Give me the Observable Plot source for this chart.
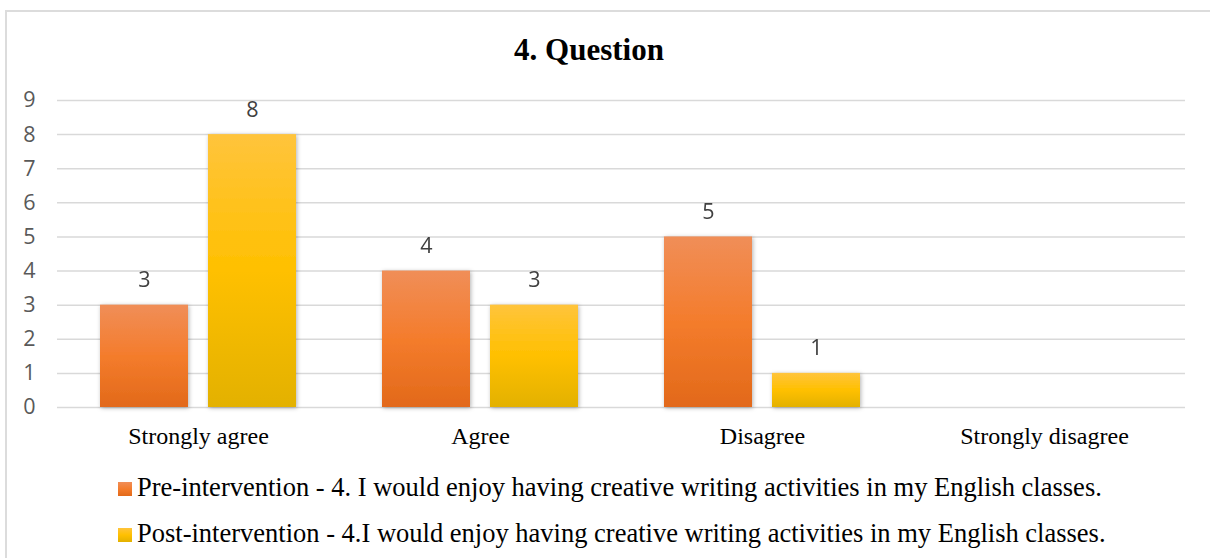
<!DOCTYPE html>
<html>
<head>
<meta charset="utf-8">
<script src="https://cdn.jsdelivr.net/npm/d3@7"></script>
<script src="https://cdn.jsdelivr.net/npm/@observablehq/plot@0.6"></script>
<style>
  html, body { margin: 0; padding: 0; background: #fff; }
  #frame {
    position: relative; width: 1210px; height: 558px; overflow: hidden; background: #fff;
  }
  #border {
    position: absolute; left: 5px; top: 10px; width: 1300px; height: 700px;
    border-top: 2px solid #dcdcdc; border-left: 2px solid #dcdcdc; box-sizing: border-box;
  }
  #title {
    position: absolute; left: 0; top: 34px; width: 1178px; text-align: center;
    font-family: "Liberation Serif", serif; font-weight: bold; font-size: 31px; line-height: 31px; color: #000;
  }
  #chart { position: absolute; left: 0; top: 70px; }
  #chart svg g[aria-label="bar"] { filter: url(#barShadow); }
  .legend-row {
    position: absolute; left: 118px; white-space: nowrap;
    font-family: "Liberation Serif", serif; font-size: 26.5px; line-height: 26.5px; color: #000;
  }
  .swatch {
    display: inline-block; width: 14px; height: 14px; margin-right: 5px; vertical-align: baseline;
  }
</style>
</head>
<body>
<div id="frame">
  <div id="border"></div>
  <div id="title">4. Question</div>
  <div id="chart"></div>
  <div id="legend"></div>
</div>
<script>
// Survey answers per category, before and after the intervention
const categories = ["Strongly agree", "Agree", "Disagree", "Strongly disagree"];
const seriesNames = [
  "Pre-intervention - 4. I would enjoy having creative writing activities in my English classes.",
  "Post-intervention - 4.I would enjoy having creative writing activities in my English classes."
];
const preValues = [3, 4, 5, 0];
const postValues = [8, 3, 1, 0];
const yTicks = [0, 1, 2, 3, 4, 5, 6, 7, 8, 9];

// Gradients for each series (top, middle, bottom stops)
const gradients = [
  {id: "gradPre", stops: ["#f08e58", "#f47c2c", "#e2691a"]},
  {id: "gradPost", stops: ["#ffc43c", "#ffc000", "#e3b100"]}
];

const rows = categories.flatMap((c, i) => [
  {category: c, series: seriesNames[0], value: preValues[i]},
  {category: c, series: seriesNames[1], value: postValues[i]}
]);
const preRows = rows.filter(d => d.series === seriesNames[0]);
const postRows = rows.filter(d => d.series === seriesNames[1]);
const labelRows = rows.filter(d => d.value > 0);

const chart = Plot.plot({
  width: 1210,
  height: 390,
  marginLeft: 57,
  marginRight: 25,
  marginTop: 30,
  marginBottom: 53,
  fx: {domain: categories, padding: 0, label: null},
  x: {domain: seriesNames, paddingInner: 0.185, paddingOuter: 0.39, axis: null},
  y: {domain: [0, 9], label: null, axis: null},
  marks: [
    Plot.ruleY(yTicks, {stroke: "#d9d9d9", strokeWidth: 1.5}),
    Plot.axisY(yTicks, {
      tickSize: 0, tickPadding: 22, fontSize: 21.5, fontFamily: "Open Sans", fill: "#595959", label: null
    }),
    Plot.axisFx({
      anchor: "bottom", tickSize: 0, tickPadding: 19, fontSize: 24,
      fontFamily: "Liberation Serif", fill: "#000", label: null
    }),
    Plot.barY(preRows, {fx: "category", x: "series", y: "value", fill: "url(#gradPre)"}),
    Plot.barY(postRows, {fx: "category", x: "series", y: "value", fill: "url(#gradPost)"}),
    Plot.text(labelRows, {
      fx: "category", x: "series", y: "value", text: d => String(d.value),
      dy: -25, fontSize: 21.5, fontFamily: "Open Sans", fill: "#404040"
    })
  ]
});

// Gradient and shadow definitions used by the bars
const defs = d3.select(chart).insert("defs", ":first-child");
for (const g of gradients) {
  const lg = defs.append("linearGradient").attr("id", g.id)
    .attr("x1", 0).attr("y1", 0).attr("x2", 0).attr("y2", 1);
  g.stops.forEach((c, i) => lg.append("stop").attr("offset", i / (g.stops.length - 1)).attr("stop-color", c));
}
const f = defs.append("filter").attr("id", "barShadow")
  .attr("x", "-20%").attr("y", "-20%").attr("width", "140%").attr("height", "140%");
f.append("feDropShadow").attr("dx", 1).attr("dy", 1).attr("stdDeviation", 2)
  .attr("flood-color", "#000").attr("flood-opacity", 0.3);

document.getElementById("chart").appendChild(chart);

// Legend rows below the plot
const legend = d3.select("#legend");
const legendTops = [474, 519.5];
seriesNames.forEach((name, i) => {
  const row = legend.append("div").attr("class", "legend-row").style("top", legendTops[i] + "px");
  row.append("span").attr("class", "swatch")
    .style("background", `linear-gradient(${gradients[i].stops.join(", ")})`);
  row.append("span").text(name);
});
</script>
</body>
</html>
